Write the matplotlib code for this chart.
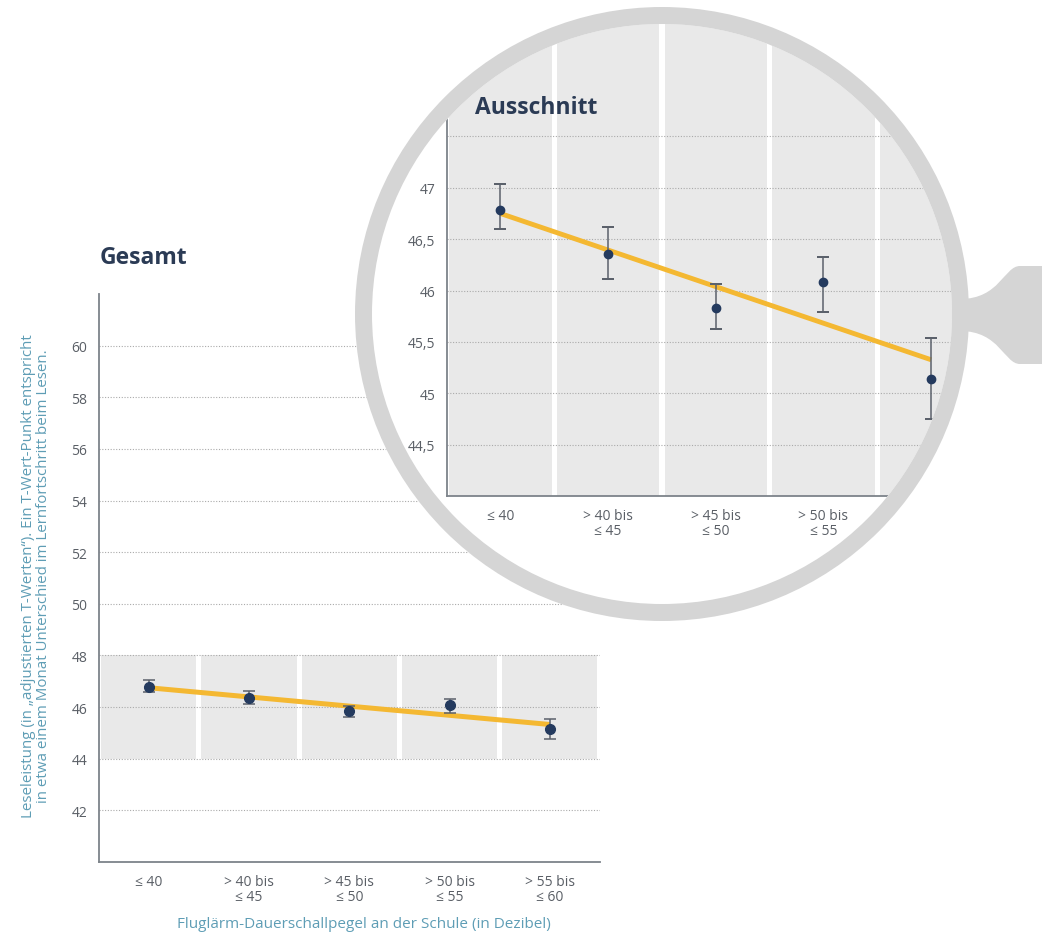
import numpy as np
import matplotlib
matplotlib.use("Agg")
import matplotlib.pyplot as plt
from matplotlib.patches import Circle, PathPatch
from matplotlib.path import Path

plt.rcParams['font.family'] = ['Open Sans', 'DejaVu Sans']

# Lesewerte je Lärmkategorie (Mittelwert mit Konfidenzintervall)
categories = ["≤ 40", "> 40 bis\n≤ 45", "> 45 bis\n≤ 50", "> 50 bis\n≤ 55", "> 55 bis\n≤ 60"]
means = np.array([46.78, 46.36, 45.83, 46.08, 45.14])
ci_low = np.array([46.60, 46.11, 45.63, 45.79, 44.75])
ci_high = np.array([47.04, 46.62, 46.06, 46.33, 45.54])

main_yticks = [42, 44, 46, 48, 50, 52, 54, 56, 58, 60]
zoom_yticks = [44.5, 45, 45.5, 46, 46.5, 47, 47.5]
zoom_yticklabels = ["44,5", "45", "45,5", "46", "46,5", "47", ""]

NAVY = "#243a5e"
TITLE = "#2b3b55"
ERR = "#5b616b"
TREND = "#f4b832"
COLGRAY = "#e9e9e9"
LABEL = "#5e9db5"
TICK = "#5a5f66"
SPINE = "#7d838a"
RING = "#d5d5d5"

W, H = 1042, 937
fig = plt.figure(figsize=(W / 100, H / 100), dpi=100)


def box(x0, y0, x1, y1):
    # pixel box (top-left origin) -> figure fraction
    return [x0 / W, 1 - y1 / H, (x1 - x0) / W, (y1 - y0) / H]


x = np.arange(len(categories))
yerr = [means - ci_low, ci_high - means]
fit = np.polyval(np.polyfit(x, means, 1), x)


def draw_panel(ax, band, ms, lw):
    ax.bar(x, band[1] - band[0], bottom=band[0], width=0.95, color=COLGRAY, zorder=0.3)
    ax.plot(x, fit, color=TREND, lw=lw, solid_capstyle="butt", zorder=2)
    ax.errorbar(x, means, yerr=yerr, fmt="o", color=NAVY, ms=ms, ecolor=ERR,
                elinewidth=1.1, capsize=4.5, capthick=1.1, zorder=3)
    ax.set_xlim(-0.5, 4.5)
    ax.set_xticks(x)
    ax.set_xticklabels(categories, linespacing=0.95)
    for s in ["top", "right"]:
        ax.spines[s].set_visible(False)
    for s in ["left", "bottom"]:
        ax.spines[s].set_color(SPINE)
        ax.spines[s].set_linewidth(1.3)
    ax.tick_params(length=0, labelsize=10, labelcolor=TICK)
    ax.tick_params(axis="x", pad=9)
    ax.tick_params(axis="y", pad=8)
    ax.yaxis.grid(True, ls=(0, (1, 1.5)), color="#aaaaaa", lw=0.8)
    ax.set_axisbelow("line")


# Gesamtansicht
ax = fig.add_axes(box(98.5, 295, 600, 863), zorder=1)
draw_panel(ax, (44, 48), ms=7, lw=3.6)
ax.set_ylim(40, 62)
ax.set_yticks(main_yticks)

fig.text(100 / W, 1 - 258 / H, "Gesamt", fontsize=16.5, fontweight="bold", color=TITLE, va="center")
fig.text(36 / W, 1 - 576 / H,
         "Leseleistung (in „adjustierten T-Werten“). Ein T-Wert-Punkt entspricht\n"
         "in etwa einem Monat Unterschied im Lernfortschritt beim Lesen.",
         rotation=90, ha="center", va="center", multialignment="center",
         fontsize=10.9, color=LABEL, linespacing=1.05)
fig.text(364 / W, 1 - 925 / H, "Fluglärm-Dauerschallpegel an der Schule (in Dezibel)",
         ha="center", va="center", fontsize=11, color=LABEL)

# Lupe: weiße Scheibe über der Gesamtansicht
cx, cy, r_out, r_in = 662, 315, 307, 290
bg = fig.add_axes([0, 0, 1, 1], zorder=2)
bg.set_xlim(0, W)
bg.set_ylim(H, 0)
bg.axis("off")
bg.add_patch(Circle((cx, cy), r_out, facecolor="white", edgecolor="none"))
lens = Circle((cx, cy), r_in, transform=bg.transData)

# Ausschnitt
ax2 = fig.add_axes(box(446.6, 8, 985, 497), zorder=3)
ax2.set_facecolor("none")
draw_panel(ax2, (44, 49), ms=6, lw=3.5)
ax2.set_ylim(44, 48.76)
ax2.set_yticks(zoom_yticks)
ax2.set_yticklabels(zoom_yticklabels)
for child in ax2.get_children():
    try:
        child.set_clip_path(lens)
    except Exception:
        pass
for t in ax2.xaxis.get_major_ticks() + ax2.yaxis.get_major_ticks():
    for a in (t.gridline, t.tick1line):
        a.set_clip_path(lens)

# Beschriftungen, die außerhalb der Lupe lägen, ausblenden (Text wird nicht geclippt)
to_px = ax2.transData + bg.transData.inverted()
for xi, lab in zip(x, ax2.get_xticklabels()):
    px, py = to_px.transform((xi, 44))
    if np.hypot(px - cx, py + 30 - cy) > r_in - 10:
        lab.set_visible(False)

fig.text(475 / W, 1 - 108 / H, "Ausschnitt", fontsize=16.5, fontweight="bold", color=TITLE, va="center")

# Rand und Griff der Lupe
top = fig.add_axes([0, 0, 1, 1], zorder=4)
top.set_xlim(0, W)
top.set_ylim(H, 0)
top.axis("off")
handle = Path(
    [(960, 300), (1000, 300), (1004, 267), (1020, 267), (1042, 267), (1042, 365),
     (1020, 365), (1004, 365), (1000, 332), (960, 332), (960, 300)],
    [Path.MOVETO, Path.CURVE4, Path.CURVE4, Path.CURVE4, Path.LINETO, Path.LINETO,
     Path.LINETO, Path.CURVE4, Path.CURVE4, Path.CURVE4, Path.CLOSEPOLY])
top.add_patch(PathPatch(handle, facecolor=RING, edgecolor="none"))
top.add_patch(Circle((cx, cy), (r_out + r_in) / 2, fill=False, edgecolor=RING,
                     lw=(r_out - r_in) * 0.72))

fig.savefig("out.png", dpi=100)
